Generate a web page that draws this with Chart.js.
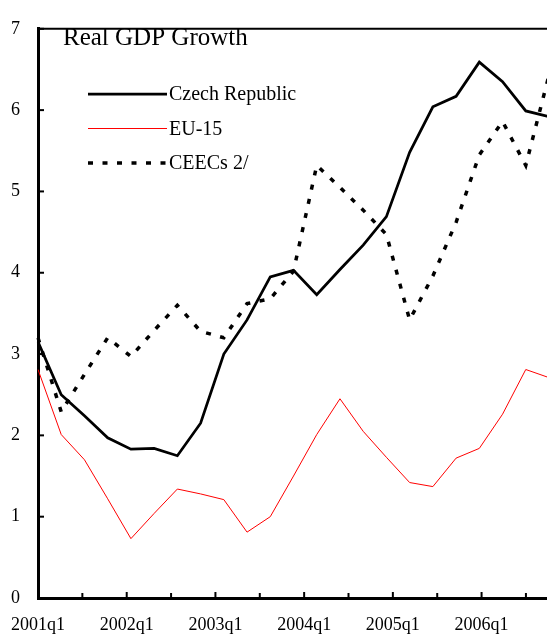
<!DOCTYPE html>
<html>
<head>
<meta charset="utf-8">
<script src="https://cdn.jsdelivr.net/npm/chart.js@4"></script>
<style>
  html, body { margin: 0; padding: 0; overflow: hidden; background: #fff; }
  #wrap { width: 549px; height: 642px; }
</style>
</head>
<body>
<div id="wrap"><canvas id="grafico"></canvas></div>
<script>
// trimestres 2001q1 .. 2006q3
const trimestres = [
    '2001q1', '2001q2', '2001q3', '2001q4',
    '2002q1', '2002q2', '2002q3', '2002q4',
    '2003q1', '2003q2', '2003q3', '2003q4',
    '2004q1', '2004q2', '2004q3', '2004q4',
    '2005q1', '2005q2', '2005q3', '2005q4',
    '2006q1', '2006q2', '2006q3'
];
const czech = [3.15, 2.5, 2.24, 1.97, 1.83, 1.84, 1.75, 2.15, 3.0, 3.42, 3.95, 4.03,
               3.73, 4.04, 4.34, 4.69, 5.48, 6.04, 6.17, 6.59, 6.35, 5.99, 5.92];
const eu15 = [2.81, 2.01, 1.70, 1.22, 0.73, 1.04, 1.34, 1.28, 1.21, 0.81, 1.0, 1.5,
              2.01, 2.45, 2.05, 1.73, 1.42, 1.37, 1.72, 1.84, 2.26, 2.81, 2.71];
const ceecs = [3.2, 2.29, 2.75, 3.2, 2.97, 3.29, 3.6, 3.28, 3.2, 3.62, 3.68, 4.02,
               5.32, 5.05, 4.77, 4.47, 3.42, 3.96, 4.62, 5.45, 5.86, 5.32, 6.43];
const etiquetasX = ['2001q1', '', '2002q1', '', '2003q1', '', '2004q1', '', '2005q1', '', '2006q1', ''];
const ticksY = [0, 1, 2, 3, 4, 5, 6, 7];
const tituloGrafico = 'Real GDP Growth';

const fuente = 'Liberation Serif, Times New Roman, serif';

// marco superior, ticks hacia dentro y leyenda dentro del grafico
const marcoYLeyenda = {
    id: 'marcoYLeyenda',
    afterDraw(chart) {
        const { ctx, chartArea } = chart;
        const sy = chart.scales.y;
        const sx = chart.scales.x2;
        ctx.save();
        ctx.strokeStyle = '#000';
        ctx.lineWidth = 2;
        ctx.beginPath();
        ctx.moveTo(chartArea.left, chartArea.top);
        ctx.lineTo(chartArea.right, chartArea.top);
        ctx.stroke();

        sy.ticks.forEach(t => {
            const y = sy.getPixelForValue(t.value);
            ctx.beginPath();
            ctx.moveTo(chartArea.left, y);
            ctx.lineTo(chartArea.left + 6, y);
            ctx.stroke();
        });
        sx.ticks.forEach(t => {
            const x = sx.getPixelForValue(t.value);
            const largo = t.value % 2 === 0 ? 6 : 5;
            ctx.beginPath();
            ctx.moveTo(x, chartArea.bottom);
            ctx.lineTo(x, chartArea.bottom - largo);
            ctx.stroke();
        });

        ctx.fillStyle = '#000';
        ctx.font = '25px ' + fuente;
        ctx.textBaseline = 'alphabetic';
        ctx.fillText(tituloGrafico, 63, 45);

        ctx.font = '20px ' + fuente;
        ctx.textBaseline = 'middle';
        chart.data.datasets.forEach((ds, i) => {
            const y = 94 + i * 34.5;
            ctx.strokeStyle = ds.borderColor;
            ctx.lineWidth = ds.borderWidth;
            ctx.setLineDash(ds.borderDash || []);
            ctx.beginPath();
            ctx.moveTo(88, y);
            ctx.lineTo(167, y);
            ctx.stroke();
            ctx.setLineDash([]);
            ctx.fillText(ds.label, 169, y + 1);
        });
        ctx.restore();
    }
};

new Chart(document.getElementById('grafico'), {
    type: 'line',
    data: {
        labels: trimestres,
        datasets: [
            { label: 'Czech Republic', data: czech, borderColor: '#000', borderWidth: 2.75 },
            { label: 'EU-15', data: eu15, borderColor: '#ff0000', borderWidth: 1 },
            { label: 'CEECs 2/', data: ceecs, borderColor: '#000', borderWidth: 3.5, borderDash: [5, 9.5] }
        ]
    },
    options: {
        responsive: true,
        maintainAspectRatio: false,
        animation: false,
        events: [],
        elements: { point: { radius: 0 }, line: { tension: 0 } },
        layout: { padding: { top: 14, left: 0, right: 0, bottom: 0 } },
        plugins: { legend: { display: false }, tooltip: { enabled: false } },
        scales: {
            x: { type: 'category', display: false },
            x2: {
                type: 'linear',
                position: 'bottom',
                min: 0,
                max: 11.52,
                grid: { display: false, drawTicks: false },
                border: { display: true, color: '#000', width: 3 },
                ticks: {
                    stepSize: 1,
                    includeBounds: false,
                    autoSkip: false,
                    maxRotation: 0,
                    padding: 16,
                    color: '#000',
                    font: { family: fuente, size: 18 },
                    callback: v => etiquetasX[v] || ''
                },
                afterFit(s) {
                    s.height = 44;
                    s.paddingLeft = 0;
                    s.paddingRight = 0;
                }
            },
            y: {
                min: ticksY[0],
                max: ticksY[ticksY.length - 1],
                grid: { display: false, drawTicks: false },
                border: { display: true, color: '#000', width: 3 },
                ticks: {
                    stepSize: 1,
                    padding: 18,
                    color: '#000',
                    font: { family: fuente, size: 18 }
                },
                afterFit(s) { s.width = 38; }
            }
        }
    },
    plugins: [marcoYLeyenda]
});
</script>
</body>
</html>
